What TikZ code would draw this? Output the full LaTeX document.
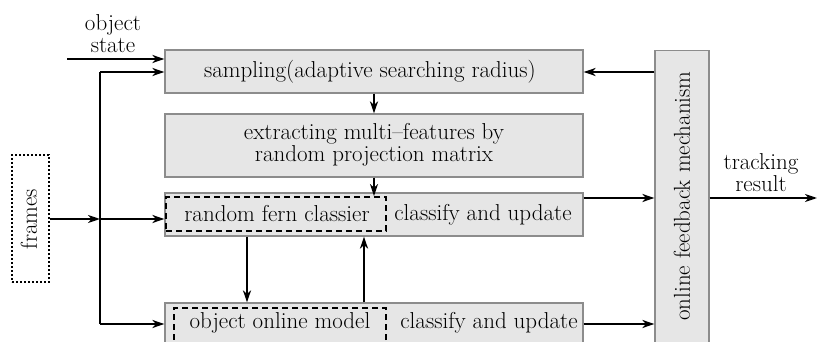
\documentclass[tikz,border=0pt]{standalone}
\usepackage{fontspec}
\usetikzlibrary{arrows.meta}
\definecolor{boxfill}{HTML}{E6E6E6}
\definecolor{boxline}{HTML}{8C8C8C}
\begin{document}
\begin{tikzpicture}[x=1pt,y=-1pt,
  box/.style={draw=boxline,fill=boxfill,line width=1.2pt,inner sep=0pt,rectangle},
  inbox/.style={draw=black,dash pattern=on 6pt off 4pt,line width=1.8pt,inner sep=0pt,rectangle},
  dotbox/.style={draw=black,dash pattern=on 2pt off 2pt,line width=1.8pt,inner sep=0pt,rectangle},
  lbl/.style={font=\fontsize{23}{22}\selectfont,inner sep=0pt,align=center},
  arr/.style={line width=1.8pt,-{Stealth[length=12pt,width=8pt,inset=3.5pt]}},
  ln/.style={line width=1.8pt}]
\useasboundingbox (0,0) rectangle (817,342);
% boxes
\node[box,minimum width=418pt,minimum height=43pt] (sampling) at (374,71.5) {};
\node[lbl] (samplingt) at (370,72) {sampling(adaptive searching radius)};
\node[box,minimum width=418pt,minimum height=63pt] (extract) at (374,145.5) {};
\node[lbl] (extractt) at (374,145) {extracting multi--features by\\random projection matrix};
\node[box,minimum width=418pt,minimum height=43pt] (fern) at (374,214.5) {};
\node[inbox,minimum width=220pt,minimum height=34pt] (fernin) at (276,214) {};
\node[lbl] (ferninT) at (277,214) {random fern classier};
\node[lbl] (fernT) at (483,215) {classify and update};
\node[box,minimum width=418pt,minimum height=50pt] (model) at (374,328) {};
\node[inbox,minimum width=212pt,minimum height=40pt] (modelin) at (280,328) {};
\node[lbl] (modelinT) at (280,323) {object online model};
\node[lbl] (modelT) at (489,323) {classify and update};
\node[box,minimum width=54pt,minimum height=310pt] (feedback) at (682,205.5) {};
\node[lbl,rotate=90] (feedbackT) at (682,196) {online feedback mechanism};
\node[dotbox,minimum width=37pt,minimum height=127pt] (frames) at (30.5,218.5) {};
\node[lbl,rotate=90] (framesT) at (29,219) {frames};
\node[lbl] (ostate) at (113,34) {object\\state};
\node[lbl] (track) at (761,173) {tracking\\result};
% coordinates
\coordinate (os) at (67,59);
\coordinate (j) at (100,219);
\coordinate (jt) at (100,72);
\coordinate (jb) at (100,324);
\coordinate (r) at (0,198);
\coordinate (d1) at (247,0);
\coordinate (u1) at (364,0);
\coordinate (out) at (817,198);
% connectors
\draw[arr] (os) -- (os -| sampling.west);
\draw[ln] (jt) -- (jb);
\draw[arr] (jt) -- (jt -| sampling.west);
\draw[arr] (frames.east |- j) -- (j);
\draw[arr] (j) -- (j -| fern.west);
\draw[arr] (jb) -- (jb -| model.west);
\draw[arr] (sampling.south) -- (extract.north);
\draw[arr] (extract.south) -- (extract.south |- fernin.north);
\draw[arr] (fern.south -| d1) -- (model.north -| d1);
\draw[arr] (model.north -| u1) -- (fern.south -| u1);
\draw[arr] (feedback.west |- jt) -- (sampling.east |- jt);
\draw[arr] (fern.east |- r) -- (feedback.west |- r);
\draw[arr] (model.east |- jb) -- (feedback.west |- jb);
\draw[arr] (feedback.east |- r) -- (out);
\end{tikzpicture}
\end{document}
